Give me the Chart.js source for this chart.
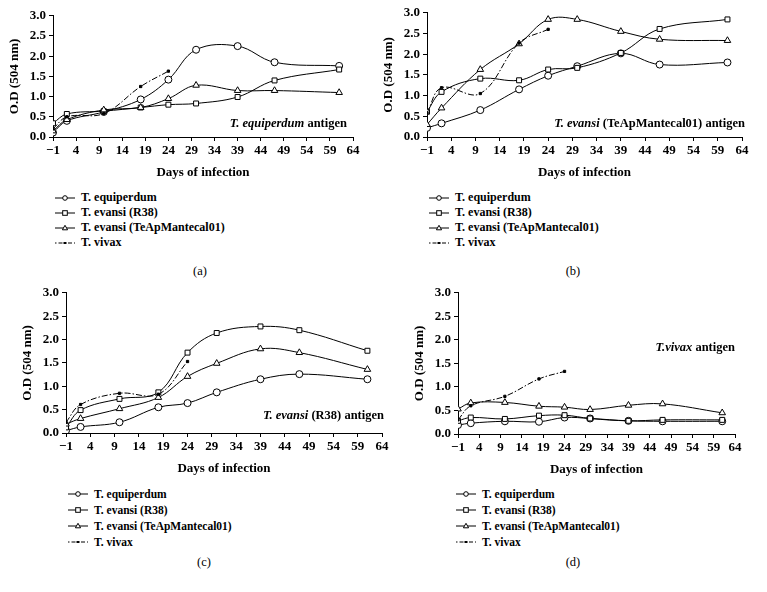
<!DOCTYPE html>
<html><head><meta charset="utf-8">
<script src="https://cdn.jsdelivr.net/npm/chart.js@4.4.0/dist/chart.umd.min.js"></script>
<style>
body{margin:0;width:767px;height:592px;background:#fff;position:relative;overflow:hidden;font-family:'Liberation Serif',serif;color:#000}
.box{position:absolute}
.note{position:absolute;font:bold 12.5px 'Liberation Serif';white-space:nowrap;transform:translateY(-50%)}
.leg{position:absolute;font:bold 12px 'Liberation Serif'}
.leg .row{display:flex;align-items:center;white-space:nowrap}
.leg svg{margin-right:6px}
.cap{position:absolute;font:12.5px 'Liberation Serif';transform:translate(-50%,-50%)}
</style></head><body>
<div id="root"></div>
<script>
// ---- data ----
const days = [-1, 2, 10, 18, 24, 30, 39, 47, 61];
const vivaxDays = [-1, 2, 10, 18, 24];
const seriesLabels = ['T. equiperdum', 'T. evansi (R38)', 'T. evansi (TeApMantecal01)', 'T. vivax'];
const xTicksMin = -1, xTicksMax = 64, xStep = 5;
const yTicksMin = 0, yTicksMax = 3, yStep = 0.5;

// (a) T. equiperdum antigen
const a_equi  = [0.11, 0.40, 0.62, 0.93, 1.42, 2.16, 2.25, 1.85, 1.76];
const a_r38   = [0.34, 0.57, 0.64, 0.73, 0.80, 0.83, 0.99, 1.40, 1.67];
const a_mant  = [0.15, 0.43, 0.67, 0.73, 0.95, 1.28, 1.15, 1.15, 1.10];
const a_vivax = [0.20, 0.50, 0.58, 1.25, 1.63];
// (b) T. evansi (TeApMantecal01) antigen
const b_equi  = [0.22, 0.33, 0.65, 1.15, 1.48, 1.71, 2.02, 1.75, 1.80];
const b_r38   = [0.61, 1.09, 1.41, 1.37, 1.63, 1.67, 2.03, 2.61, 2.84];
const b_mant  = [0.30, 0.70, 1.63, 2.25, 2.84, 2.84, 2.55, 2.36, 2.33];
const b_vivax = [0.58, 1.19, 1.05, 2.27, 2.60];
// (c) T. evansi (R38) antigen
const c_equi  = [0.05, 0.13, 0.23, 0.55, 0.64, 0.87, 1.15, 1.26, 1.15];
const c_r38   = [0.12, 0.49, 0.73, 0.87, 1.72, 2.14, 2.28, 2.20, 1.76];
const c_mant  = [0.19, 0.31, 0.52, 0.76, 1.21, 1.49, 1.80, 1.72, 1.36];
const c_vivax = [0.23, 0.61, 0.85, 0.83, 1.53];
// (d) T. vivax antigen
const d_equi  = [0.19, 0.23, 0.27, 0.26, 0.35, 0.33, 0.28, 0.27, 0.27];
const d_r38   = [0.28, 0.35, 0.32, 0.39, 0.40, 0.33, 0.28, 0.30, 0.30];
const d_mant  = [0.53, 0.66, 0.67, 0.59, 0.57, 0.52, 0.61, 0.64, 0.45];
const d_vivax = [0.30, 0.60, 0.80, 1.17, 1.33];

// ---- layout (chart area in page px) ----
const panels = [
  {L:53,  R:353, T:15,  B:137, s:[a_equi,a_r38,a_mant,a_vivax],
   note:{html:'<i>T. equiperdum</i> antigen', right:347, y:123},
   leg:{x:55, y:190, row:15}, cap:{t:'(a)', x:200, y:271}},
  {L:427, R:742, T:12,  B:137, s:[b_equi,b_r38,b_mant,b_vivax],
   note:{html:'<i>T. evansi</i> (TeApMantecal01) antigen', right:745, y:123},
   leg:{x:429, y:190, row:15}, cap:{t:'(b)', x:573, y:271}},
  {L:66,  R:382, T:292, B:433, s:[c_equi,c_r38,c_mant,c_vivax],
   note:{html:'<i>T. evansi</i> (R38) antigen', right:384, y:415},
   leg:{x:68, y:486, row:16}, cap:{t:'(c)', x:204, y:562}},
  {L:458, R:735, T:292, B:434, s:[d_equi,d_r38,d_mant,d_vivax],
   note:{html:'<i>T.vivax</i> antigen', right:735, y:347},
   leg:{x:456, y:486, row:16}, cap:{t:'(d)', x:573, y:562}}
];
const YW = 50, XH = 43, PT = 10, PR = 14;
const FONT = 'Liberation Serif';
const styles = [
  {pointStyle:'circle', radius:3.5, fill:'#fff', dash:[]},
  {pointStyle:'rect', radius:3.5, fill:'#fff', dash:[]},
  {pointStyle:'triangle', radius:3.8, fill:'#fff', dash:[]},
  {pointStyle:'rect', radius:1.6, fill:'#000', dash:[6,2,1.5,2]}
];

const root = document.getElementById('root');
panels.forEach((p, pi) => {
  const w = (p.R - p.L) + YW + PR, h = (p.B - p.T) + PT + XH;
  const div = document.createElement('div');
  div.className = 'box';
  div.style.left = (p.L - YW) + 'px'; div.style.top = (p.T - PT) + 'px';
  div.style.width = w + 'px'; div.style.height = h + 'px';
  const cv = document.createElement('canvas');
  cv.width = w; cv.height = h; cv.style.width = w + 'px'; cv.style.height = h + 'px';
  div.appendChild(cv); root.appendChild(div);

  const datasets = p.s.map((vals, si) => {
    const xs = si === 3 ? vivaxDays : days;
    const st = styles[si];
    return {
      label: seriesLabels[si],
      data: xs.map((d, i) => ({x: d, y: vals[i]})),
      borderColor: '#000', borderWidth: 1, borderDash: st.dash,
      pointStyle: st.pointStyle, pointRadius: st.radius,
      pointBackgroundColor: st.fill, pointBorderColor: '#000', pointBorderWidth: 1,
      tension: 0.38, fill: false, order: 3 - si
    };
  });
  const tickFont = {family: FONT, size: 13, weight: 'bold'};
  new Chart(cv, {
    type: 'line',
    data: {datasets},
    options: {
      responsive: false, animation: false, devicePixelRatio: 1,
      layout: {padding: {top: PT, right: PR, left: 0, bottom: 0}},
      plugins: {legend: {display: false}, tooltip: {enabled: false}},
      scales: {
        x: {type: 'linear', min: xTicksMin, max: xTicksMax,
            ticks: {stepSize: xStep, autoSkip: false, maxRotation: 0, color: '#000', font: tickFont, padding: 2,
                    callback: v => (v < 0 ? '\u2212' + Math.abs(v) : String(v))},
            grid: {drawOnChartArea: false, drawTicks: true, tickLength: 4, color: '#000', lineWidth: 1},
            border: {display: true, color: '#000', width: 1},
            title: {display: true, text: 'Days of infection', color: '#000', font: tickFont, padding: {top: 0, bottom: 0}},
            afterFit: s => { s.height = XH; }},
        y: {min: yTicksMin, max: yTicksMax,
            ticks: {stepSize: yStep, color: '#000', font: tickFont, padding: 3, callback: v => v.toFixed(1)},
            grid: {drawOnChartArea: false, drawTicks: true, tickLength: 4, color: '#000', lineWidth: 1},
            border: {display: true, color: '#000', width: 1},
            title: {display: true, text: 'O.D (504 nm)', color: '#000', font: tickFont, padding: {top: 4, bottom: 0}},
            afterFit: s => { s.width = YW; }}
      }
    }
  });

  // annotation text
  const n = document.createElement('div');
  n.className = 'note'; n.innerHTML = p.note.html;
  n.style.right = (767 - p.note.right) + 'px'; n.style.top = p.note.y + 'px';
  root.appendChild(n);

  // legend
  const lg = document.createElement('div');
  lg.className = 'leg'; lg.style.left = p.leg.x + 'px'; lg.style.top = p.leg.y + 'px';
  if (pi >= 2) lg.style.fontSize = '11.5px';
  seriesLabels.forEach((lab, si) => {
    const st = styles[si];
    const row = document.createElement('div');
    row.className = 'row'; row.style.height = p.leg.row + 'px';
    let mk = '';
    if (si === 0) mk = '<circle cx="10" cy="5" r="2.3" fill="#fff" stroke="#000" stroke-width="1"/>';
    if (si === 1) mk = '<rect x="7.7" y="2.7" width="4.6" height="4.6" fill="#fff" stroke="#000" stroke-width="1"/>';
    if (si === 2) mk = '<polygon points="10,2.3 12.6,6.8 7.4,6.8" fill="#fff" stroke="#000" stroke-width="1"/>';
    if (si === 3) mk = '<rect x="8.5" y="4" width="3" height="2" fill="#000"/>';
    const dash = si === 3 ? ' stroke-dasharray="1.5,2,4,2"' : '';
    row.innerHTML = '<svg width="20" height="10"><line x1="0" y1="5" x2="20" y2="5" stroke="#000" stroke-width="1"' + dash + '/>' + mk + '</svg><span>' + lab + '</span>';
    lg.appendChild(row);
  });
  root.appendChild(lg);

  const c = document.createElement('div');
  c.className = 'cap'; c.textContent = p.cap.t;
  c.style.left = p.cap.x + 'px'; c.style.top = p.cap.y + 'px';
  root.appendChild(c);
});
</script>
</body></html>
